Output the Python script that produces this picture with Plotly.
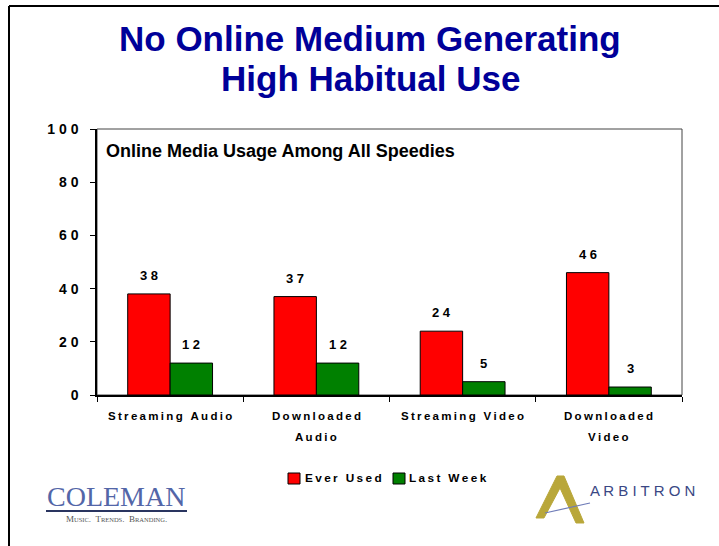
import plotly.graph_objects as go

categories = ["Streaming Audio", "Downloaded Audio", "Streaming Video", "Downloaded Video"]
label_lines = [["Streaming Audio"], ["Downloaded", "Audio"], ["Streaming Video"], ["Downloaded", "Video"]]
series_names = ["Ever Used", "Last Week"]
ever_used = [38, 37, 24, 46]
last_week = [12, 12, 5, 3]
y_ticks = [0, 20, 40, 60, 80, 100]

W, H = 719, 546
L, R, T, B = 97, 37, 129, 151
PW, PH = W - L - R, H - T - B
BARGAP = 0.42

FONT = "Liberation Sans, Arial, sans-serif"
SERIF = "Liberation Serif, Times New Roman, serif"
RED = "#ff0000"
GREEN = "#008000"
NAVY = "#000099"
THIN = "\u2009"


def spaced(text, gap=THIN):
    # the slide renders most labels with wide letter spacing
    return gap.join(str(text))


def px(x, y):
    """pixel position on the page -> paper coordinates"""
    return (x - L) / PW, (H - B - y) / PH


def note(x, y, text, size, color="black", family=FONT, weight="bold", xanchor="center"):
    ax, ay = px(x, y)
    fig.add_annotation(x=ax, y=ay, xref="paper", yref="paper", text=text, showarrow=False,
                       xanchor=xanchor, yanchor="middle",
                       font=dict(family=family, size=size, color=color, weight=weight))


fig = go.Figure()
for name, vals, color in ((series_names[0], ever_used, RED), (series_names[1], last_week, GREEN)):
    fig.add_trace(go.Bar(
        x=categories, y=vals, name=name, showlegend=False,
        marker=dict(color=color, line=dict(color="black", width=1)),
    ))

# value labels sit well above the bars
half = (1 - BARGAP) / 4
for i, cat in enumerate(categories):
    for off, vals in ((-half, ever_used), (half, last_week)):
        fig.add_annotation(
            x=i + off, y=vals[i], xref="x", yref="y", text=spaced(vals[i], " "),
            showarrow=False, yanchor="bottom", yshift=9,
            font=dict(family=FONT, size=13, color="black", weight="bold"),
        )

# category labels (two-line ones have generous line spacing)
for i, lines in enumerate(label_lines):
    for k, line in enumerate(lines):
        fig.add_annotation(
            x=i, y=px(0, 416 + 21 * k)[1], xref="x", yref="paper", text=spaced(line),
            showarrow=False, yanchor="middle",
            font=dict(family=FONT, size=11.5, color="black", weight="bold"),
        )

# plot frame (top / right are thin)
fig.add_shape(type="rect", xref="paper", yref="paper", x0=0, x1=1, y0=0, y1=1,
              line=dict(color="#444444", width=1), layer="below")

# slide border
x0, y0 = px(9, 6)
x1, y1 = px(730, 560)
fig.add_shape(type="line", xref="paper", yref="paper", x0=x0, x1=x0, y0=y0, y1=y1,
              line=dict(color="black", width=2))
fig.add_shape(type="line", xref="paper", yref="paper", x0=x0, x1=x1, y0=y0, y1=y0,
              line=dict(color="black", width=2))

# titles
note(370, 38, "No Online Medium Generating", 35, NAVY)
note(370, 78, "High Habitual Use", 35, NAVY)
note(104, 151, "Online Media Usage Among All Speedies", 18, xanchor="left")

# legend drawn by hand so the swatches sit tight against the text
for (sx, tx), name, color in zip(((288, 303), (393, 407)), series_names, (RED, GREEN)):
    a0, b0 = px(sx, 484)
    a1, b1 = px(sx + 12, 473)
    fig.add_shape(type="rect", xref="paper", yref="paper", x0=a0, x1=a1, y0=b0, y1=b1,
                  fillcolor=color, line=dict(color="black", width=1))
    note(tx, 478, spaced(name), 11.8, xanchor="left")

# Coleman logo
note(116, 496, "COLEMAN", 28, "#5366a8", SERIF, "normal")
lx0, ly = px(46, 511)
lx1, _ = px(187, 511)
fig.add_shape(type="line", xref="paper", yref="paper", x0=lx0, x1=lx1, y0=ly, y1=ly,
              line=dict(color="#2a3560", width=2))
sc = "<span style='font-size:6.5px'>%s</span>"
note(116, 519, "M" + sc % "USIC" + ".  T" + sc % "RENDS" + ".  B" + sc % "RANDING" + ".",
     9, "#555555", SERIF, "normal")

# Arbitron logo
note(588, 490, spaced("ARBITRON", " "), 15, "#3a4784", FONT, "normal", xanchor="left")
pts = [(536, 518), (557, 476), (564, 476), (584, 523), (576, 523), (560, 488), (544, 518)]
path = "M " + " L ".join(f"{px(a, b)[0]:.4f},{px(a, b)[1]:.4f}" for a, b in pts) + " Z"
fig.add_shape(type="path", xref="paper", yref="paper", path=path,
              fillcolor="#b9a73a", line=dict(color="#b9a73a", width=1))
bx0, by0 = px(545, 513)
bx1, by1 = px(590, 503)
fig.add_shape(type="line", xref="paper", yref="paper", x0=bx0, x1=bx1, y0=by0, y1=by1,
              line=dict(color="#6f7cb8", width=1.2))

fig.update_layout(
    width=W, height=H, autosize=False,
    margin=dict(l=L, r=R, t=T, b=B),
    paper_bgcolor="white", plot_bgcolor="white",
    barmode="group", bargap=BARGAP, bargroupgap=0,
    showlegend=False,
)
fig.update_xaxes(
    tickvals=categories, showticklabels=False,
    showline=True, linecolor="black", linewidth=1.5,
    ticks="outside", tickson="boundaries", ticklen=5, tickcolor="black",
    showgrid=False,
)
fig.update_yaxes(
    range=[0, 100], tickvals=y_ticks, ticktext=[spaced(v, " ") for v in y_ticks],
    showline=True, linecolor="black", linewidth=1.5,
    ticks="outside", ticklen=5, tickcolor="black", ticklabelstandoff=9,
    tickfont=dict(family=FONT, size=14, color="black", weight="bold"),
    showgrid=False, zeroline=False,
)

fig.write_html("out.html", config={"displayModeBar": False},
               post_script="document.body.style.margin='0';")
